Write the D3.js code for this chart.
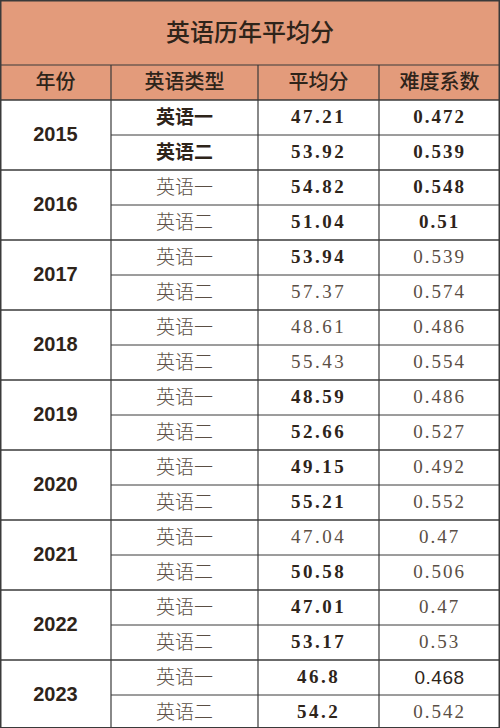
<!DOCTYPE html>
<html><head><meta charset="utf-8">
<script src="https://cdn.jsdelivr.net/npm/d3@7"></script>
<style>body{margin:0;background:#fff}</style></head>
<body><svg id="c" width="500" height="728"></svg>
<script>
const title = "英语历年平均分";
const headers = ["年份","英语类型","平均分","难度系数"];
const years = [2015,2016,2017,2018,2019,2020,2021,2022,2023];
const types = ["英语一","英语二"];
const scores = ["47.21","53.92","54.82","51.04","53.94","57.37","48.61","55.43","48.59","52.66","49.15","55.21","47.04","50.58","47.01","53.17","46.8","54.2"];
const diffs = ["0.472","0.539","0.548","0.51","0.539","0.574","0.486","0.554","0.486","0.527","0.492","0.552","0.47","0.506","0.47","0.53","0.468","0.542"];
const scoreBold = [1,1,1,1,1,0,0,0,1,1,1,1,0,1,1,1,1,1];
const diffBold  = [1,1,1,1,0,0,0,0,0,0,0,0,0,0,0,0,2,0];

const svg = d3.select("#c");
const colX = [0,111,258,379,500];
const titleH = 65, headH = 35, top0 = 100, rowH = 35;
const y = d3.scaleLinear().domain([0, scores.length]).range([top0, top0 + rowH*scores.length]);
const ink = "#2e241a", light = "#5a4e44", border = "#3a3a3a", fill = "#e39b7b";

svg.append("rect").attr("x",0).attr("y",0).attr("width",500).attr("height",top0).attr("fill",fill);
svg.append("text").attr("x",250).attr("y",titleH/2+2).attr("text-anchor","middle").attr("dominant-baseline","middle")
  .attr("font-family","Noto Sans CJK SC").attr("font-size",24).attr("font-weight",500).attr("fill",ink).text(title);
headers.forEach((h,i)=>svg.append("text").attr("x",(colX[i]+colX[i+1])/2).attr("y",titleH+headH/2+1)
  .attr("text-anchor","middle").attr("dominant-baseline","middle").attr("font-family","Noto Sans CJK SC")
  .attr("font-size",20).attr("font-weight",500).attr("fill",ink).text(h));

const g = svg.append("g").attr("stroke",border).attr("stroke-width",1.2);
g.append("line").attr("x1",0).attr("x2",500).attr("y1",titleH).attr("y2",titleH);
scores.forEach((_,i)=>{
  const yy=y(i);
  g.append("line").attr("x1", i%2===0?0:colX[1]).attr("x2",500).attr("y1",yy).attr("y2",yy)
   .attr("stroke-width", i%2===0?1.5:1);
});
colX.slice(1,4).forEach(x=>g.append("line").attr("x1",x).attr("x2",x).attr("y1",titleH).attr("y2",728));
svg.append("rect").attr("x",0.75).attr("y",0.75).attr("width",498.5).attr("height",727).attr("fill","none").attr("stroke",border).attr("stroke-width",1.5);

years.forEach((yr,i)=>svg.append("text").attr("x",(colX[0]+colX[1])/2).attr("y",y(i*2+1)+1)
  .attr("text-anchor","middle").attr("dominant-baseline","middle").attr("font-family","Liberation Sans")
  .attr("font-weight","bold").attr("font-size",20).attr("fill",ink).text(yr));

scores.forEach((s,i)=>{
  const cy = y(i)+rowH/2+1;
  svg.append("text").attr("x",(colX[1]+colX[2])/2).attr("y",cy).attr("text-anchor","middle").attr("dominant-baseline","middle")
    .attr("font-family","Noto Sans CJK SC").attr("font-size",19).attr("font-weight", i<2?600:300)
    .attr("fill", i<2?ink:light).text(types[i%2]);
  svg.append("text").attr("x",(colX[2]+colX[3])/2).attr("y",cy).attr("text-anchor","middle").attr("dominant-baseline","middle")
    .attr("font-family","Liberation Serif").attr("font-size",19).attr("letter-spacing",2.5)
    .attr("font-weight",scoreBold[i]?"bold":"normal").attr("fill",scoreBold[i]?ink:light).text(s);
  const d = diffBold[i];
  svg.append("text").attr("x",(colX[3]+colX[4])/2).attr("y",cy).attr("text-anchor","middle").attr("dominant-baseline","middle")
    .attr("font-family", d===2?"Liberation Sans":"Liberation Serif").attr("font-size",19).attr("letter-spacing",d===2?0.5:2)
    .attr("font-weight",d===1?"bold":"normal").attr("fill",d?ink:light).text(diffs[i]);
});
</script></body></html>
